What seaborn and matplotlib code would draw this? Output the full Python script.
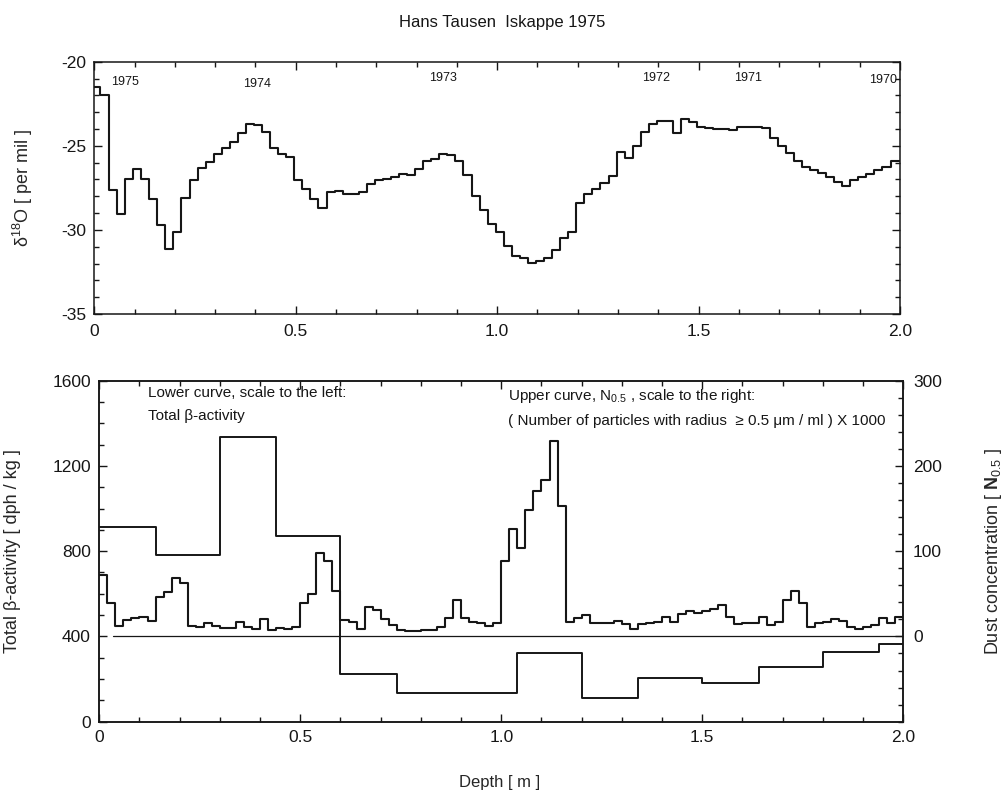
import numpy as np
import pandas as pd
import seaborn as sns
import matplotlib
matplotlib.use("Agg")
import matplotlib.pyplot as plt
from matplotlib.ticker import MultipleLocator, FixedLocator, FuncFormatter

# ---------------- data ----------------
# delta 18O profile (per mil), step samples
d18o_first_tops = [0.0, 0.015]
d18o_start = 0.0365          # top of third sample (m)
d18o_spacing = 0.02          # sample length (m)
d18o_values = [
    -21.5, -22.0,
    -27.64, -29.07, -27.0, -26.39, -26.95, -28.19, -29.72, -31.15, -30.14, -28.11,
    -27.04, -26.29, -25.97, -25.51, -25.12, -24.80, -24.26, -23.73, -23.79, -24.18,
    -25.16, -25.49, -25.65, -27.04, -27.54, -28.17, -28.67, -27.76, -27.68, -27.85,
    -27.85,
    -27.75, -27.28, -27.04, -26.95, -26.85, -26.65, -26.75, -26.39, -25.89, -25.81,
    -25.47, -25.53, -25.93, -26.75, -28.0, -28.83, -29.64, -30.14, -30.95, -31.53,
    -31.65, -31.94, -31.85, -31.65, -31.17, -30.50, -30.14, -28.39, -27.88, -27.54,
    -27.20, -26.82, -25.39, -25.73,
    -25.02, -24.16, -23.71, -23.53, -23.53, -24.26, -23.43, -23.57, -23.87, -23.95,
    -24.03, -24.03, -24.07, -23.91, -23.87, -23.87, -23.97, -24.56, -25.0, -25.45,
    -25.89, -26.25, -26.41, -26.61, -26.88, -27.14, -27.38, -27.04, -26.88, -26.65,
    -26.45, -26.25, -25.91,
]
depth_end = 2.0

year_labels = ["1975", "1974", "1973", "1972", "1971", "1970"]
year_depths = [0.076, 0.404, 0.865, 1.394, 1.622, 1.958]
year_levels = [-21.2, -21.3, -20.97, -20.97, -20.97, -21.1]

# total beta activity (dph/kg), lower curve, left scale
beta_edges = [0.0, 0.14, 0.30, 0.44, 0.60, 0.74, 1.04, 1.20, 1.34, 1.50, 1.64, 1.80, 1.94, 2.0]
beta_values = [915, 780, 1335, 873, 224, 136, 321, 110, 204, 180, 258, 328, 365]

# dust concentration N0.5 (x1000), upper curve, right scale, 2 cm samples
dust_spacing = 0.02
dust_values = [
    71.7, 39.6, 12.3, 19.3, 22.0, 23.2, 18.1, 46.7, 52.5, 69.1,
    62.4, 12.7, 11.5, 15.8, 12.3, 10.0, 10.2, 17.0, 11.5, 8.8,
    20.1, 8.1, 9.3, 8.8, 11.5, 39.6, 50.1, 98.2, 88.9, 53.7,
    19.3, 17.0, 8.8, 35.0, 31.1, 20.1, 13.7, 7.5, 5.9, 5.9,
    7.9, 7.5, 11.5, 21.6, 42.7, 22.0, 17.4, 16.2, 12.3, 16.2,
    88.9, 125.7, 104.1, 148.0, 171.0, 183.5, 229.6, 153.4, 17.4, 21.5,
    25.4, 16.2, 15.4, 15.4, 18.1, 14.6, 8.4, 14.6, 15.4, 17.4,
    23.2, 17.4, 26.0, 30.2, 27.9, 29.8, 31.8, 36.5, 22.4, 14.6,
    15.4, 16.2, 23.2, 13.4, 16.6, 42.7, 53.3, 39.6, 11.5, 15.4,
    16.6, 20.1, 18.5, 10.7, 8.8, 11.5, 13.4, 21.5, 16.2, 23.2,
]

# ---------------- style ----------------
sns.set_theme(style="ticks")
plt.rcParams["font.family"] = ["Liberation Sans", "DejaVu Sans"]
plt.rcParams["mathtext.fontset"] = "custom"
plt.rcParams["mathtext.rm"] = "Liberation Sans"
plt.rcParams["mathtext.it"] = "Liberation Sans:italic"
plt.rcParams["mathtext.bf"] = "Liberation Sans:bold"
plt.rcParams["axes.unicode_minus"] = False
plt.rcParams["axes.edgecolor"] = "#111111"
plt.rcParams["axes.linewidth"] = 1.1

INK = "#161616"
TICK_FS = 12.5
YLAB_FS = 13
NOTE_FS = 11

fig = plt.figure(figsize=(10.04, 7.9), dpi=100)
ax1 = fig.add_axes([0.0939, 0.6025, 0.8025, 0.3194])
ax3 = fig.add_axes([0.0989, 0.0865, 0.8008, 0.4316])
ax4 = ax3.twinx()

# ---- top panel ----
d18o_tops = d18o_first_tops + [d18o_start + d18o_spacing * i for i in range(len(d18o_values) - 2)]
df_top = pd.DataFrame({"depth": d18o_tops + [depth_end],
                       "d18o": d18o_values + [d18o_values[-1]]})
sns.lineplot(data=df_top, x="depth", y="d18o", ax=ax1, drawstyle="steps-post",
             color=INK, linewidth=1.5, estimator=None, sort=False)
ax1.set_xlim(0, 2.0)
ax1.set_ylim(-35, -20)
ax1.set_xlabel("")
ax1.set_ylabel("δ$^{18}$O [ per mil ]", fontsize=YLAB_FS)
ax1.yaxis.set_label_coords(-0.073, 0.5)
for lab, xd, yl in zip(year_labels, year_depths, year_levels):
    ax1.text(xd, yl, lab, ha="center", va="center", fontsize=9, color=INK)

# ---- bottom panel ----
df_beta = pd.DataFrame({"depth": beta_edges,
                        "beta": beta_values + [beta_values[-1]]})
sns.lineplot(data=df_beta, x="depth", y="beta", ax=ax3, drawstyle="steps-post",
             color=INK, linewidth=1.4, estimator=None, sort=False)

dust_edges = [dust_spacing * i for i in range(len(dust_values) + 1)]
df_dust = pd.DataFrame({"depth": dust_edges,
                        "dust": dust_values + [dust_values[-1]]})
sns.lineplot(data=df_dust, x="depth", y="dust", ax=ax4, drawstyle="steps-post",
             color=INK, linewidth=1.5, estimator=None, sort=False)
ax4.axhline(0, xmin=0.0175, xmax=1.0, color=INK, linewidth=0.9)

ax3.set_xlim(0, 2.0)
ax3.set_ylim(0, 1600)
ax4.set_ylim(-100, 300)
ax4.set_xlim(0, 2.0)

ax3.set_xlabel("Depth [ m ]", fontsize=12)
ax3.xaxis.set_label_coords(0.498, -0.156)
ax3.set_ylabel("Total β-activity [ dph / kg ]", fontsize=YLAB_FS)
ax3.yaxis.set_label_coords(-0.097, 0.5)
ax4.set_ylabel(r"Dust concentration [ $\mathbf{N}_{0.5}$ ]", fontsize=YLAB_FS)
ax4.yaxis.set_label_coords(1.099, 0.5)

ax3.text(0.121, 1542, "Lower curve, scale to the left:", fontsize=NOTE_FS,
         ha="left", va="center", color=INK)
ax3.text(0.121, 1435, "Total β-activity", fontsize=NOTE_FS,
         ha="left", va="center", color=INK)
ax3.text(1.017, 1528, r"Upper curve, N$_{0.5}$ , scale to the right:", fontsize=NOTE_FS,
         ha="left", va="center", color=INK)
ax3.text(1.017, 1411, "( Number of particles with radius  ≥ 0.5 μm / ml ) X 1000",
         fontsize=NOTE_FS, ha="left", va="center", color=INK)

# ---- ticks ----
xfmt = FuncFormatter(lambda v, p: "0" if abs(v) < 1e-9 else f"{v:.1f}")
for ax in (ax1, ax3):
    ax.xaxis.set_major_locator(MultipleLocator(0.5))
    ax.xaxis.set_minor_locator(MultipleLocator(0.1))
    ax.xaxis.set_major_formatter(xfmt)

ax1.yaxis.set_major_locator(MultipleLocator(5))
ax1.yaxis.set_minor_locator(MultipleLocator(1))
ax1.tick_params(which="both", direction="in", top=True, right=True, colors=INK,
                labelsize=TICK_FS, width=1.0)
ax1.tick_params(which="major", length=6)
ax1.tick_params(which="minor", length=3.5)
ax1.tick_params(axis="x", pad=7)
ax1.tick_params(axis="y", pad=6)

ax3.yaxis.set_major_locator(MultipleLocator(400))
ax3.yaxis.set_minor_locator(MultipleLocator(100))
ax3.tick_params(which="both", direction="in", top=True, right=False, colors=INK,
                labelsize=TICK_FS, width=1.0)
ax3.tick_params(which="major", length=6)
ax3.tick_params(which="minor", length=3.5)
ax3.tick_params(axis="x", pad=6)
ax3.tick_params(axis="y", pad=6)

ax4.yaxis.set_major_locator(FixedLocator([0, 100, 200, 300]))
ax4.yaxis.set_minor_locator(MultipleLocator(20))
ax4.tick_params(which="both", direction="in", right=True, left=False, colors=INK,
                labelsize=TICK_FS, width=1.0, pad=7)
ax4.tick_params(which="major", length=6)
ax4.tick_params(which="minor", length=3.5)

for ax in (ax1, ax3, ax4):
    for s in ax.spines.values():
        s.set_visible(True)
        s.set_linewidth(1.1)
        s.set_color(INK)

fig.text(0.5, 1 - 22 / 790, "Hans Tausen  Iskappe 1975", ha="center", va="center",
         fontsize=12, color=INK)

fig.savefig("out.png", dpi=100, facecolor="white")
